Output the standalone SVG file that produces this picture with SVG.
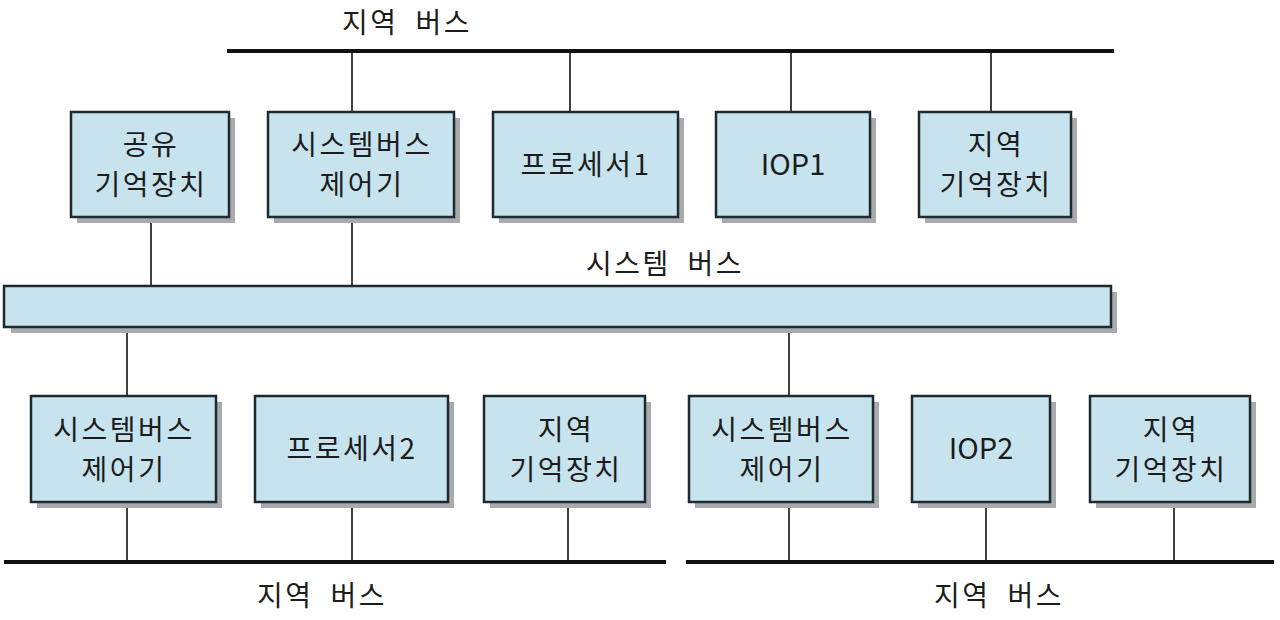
<svg xmlns="http://www.w3.org/2000/svg" width="1280" height="620" viewBox="0 0 1280 620">
<style>
.box{fill:#c7e4ee;stroke:#1e2a2e;stroke-width:2.5}
.sh{fill:#a8aaad}
.t{font-family:"Noto Sans CJK KR","Liberation Sans",sans-serif;font-size:28px;fill:#1c1c1c;text-anchor:middle;letter-spacing:2.5px}
.t.en{letter-spacing:0;font-size:29px}
.lbl{font-family:"Noto Sans CJK KR","Liberation Sans",sans-serif;font-size:28px;fill:#1c1c1c;text-anchor:middle;letter-spacing:2.5px;word-spacing:8px}
.bus{stroke:#111;stroke-width:4;fill:none}
.ln{stroke:#111;stroke-width:1.6;fill:none}
</style>
<rect width="1280" height="620" fill="#ffffff"/>

<g id="connectors">
  <line class="bus" x1="227" y1="51" x2="1114" y2="51"/>
  <line class="ln" x1="352" y1="51" x2="352" y2="112"/>
  <line class="ln" x1="570" y1="51" x2="570" y2="112"/>
  <line class="ln" x1="791" y1="51" x2="791" y2="112"/>
  <line class="ln" x1="991" y1="51" x2="991" y2="112"/>
  <line class="ln" x1="151" y1="217" x2="151" y2="286"/>
  <line class="ln" x1="352" y1="217" x2="352" y2="286"/>
  <line class="ln" x1="127" y1="327" x2="127" y2="396"/>
  <line class="ln" x1="789" y1="327" x2="789" y2="396"/>
  <line class="bus" x1="4" y1="562" x2="666" y2="562"/>
  <line class="bus" x1="686" y1="562" x2="1274" y2="562"/>
  <line class="ln" x1="127" y1="502" x2="127" y2="562"/>
  <line class="ln" x1="352" y1="502" x2="352" y2="562"/>
  <line class="ln" x1="568" y1="502" x2="568" y2="562"/>
  <line class="ln" x1="789" y1="502" x2="789" y2="562"/>
  <line class="ln" x1="986" y1="502" x2="986" y2="562"/>
  <line class="ln" x1="1174" y1="502" x2="1174" y2="562"/>
</g>

<g id="labels">
  <text class="lbl" x="407" y="33">지역 버스</text>
  <text class="lbl" x="665" y="274">시스템 버스</text>
  <text class="lbl" x="322" y="606">지역 버스</text>
  <text class="lbl" x="999" y="606">지역 버스</text>
</g>

<g id="system-bus">
  <rect class="sh" x="11" y="292" width="1106" height="41"/>
  <rect class="box" x="4" y="286" width="1107" height="41"/>
</g>

<g id="shared-mem">
  <rect class="sh" x="77" y="118" width="158" height="105"/>
  <rect class="box" x="71" y="112" width="158" height="105"/>
  <text class="t" x="151" y="155">공유</text>
  <text class="t" x="151" y="195">기억장치</text>
</g>
<g id="sbc0">
  <rect class="sh" x="274" y="118" width="186" height="105"/>
  <rect class="box" x="268" y="112" width="186" height="105"/>
  <text class="t" x="362" y="155">시스템버스</text>
  <text class="t" x="362" y="195">제어기</text>
</g>
<g id="proc1">
  <rect class="sh" x="499" y="118" width="185" height="105"/>
  <rect class="box" x="493" y="112" width="185" height="105"/>
  <text class="t" x="586" y="175">프로세서1</text>
</g>
<g id="iop1">
  <rect class="sh" x="722" y="118" width="154" height="105"/>
  <rect class="box" x="716" y="112" width="154" height="105"/>
  <text class="t en" x="793" y="175">IOP1</text>
</g>
<g id="lmem1">
  <rect class="sh" x="925" y="118" width="152" height="105"/>
  <rect class="box" x="919" y="112" width="152" height="105"/>
  <text class="t" x="996" y="155">지역</text>
  <text class="t" x="996" y="195">기억장치</text>
</g>

<g id="sbc1">
  <rect class="sh" x="37" y="402" width="185" height="106"/>
  <rect class="box" x="31" y="396" width="185" height="106"/>
  <text class="t" x="124" y="440">시스템버스</text>
  <text class="t" x="124" y="480">제어기</text>
</g>
<g id="proc2">
  <rect class="sh" x="261" y="402" width="193" height="106"/>
  <rect class="box" x="255" y="396" width="193" height="106"/>
  <text class="t" x="352" y="459">프로세서2</text>
</g>
<g id="lmem2">
  <rect class="sh" x="490" y="402" width="161" height="106"/>
  <rect class="box" x="484" y="396" width="161" height="106"/>
  <text class="t" x="566" y="440">지역</text>
  <text class="t" x="566" y="480">기억장치</text>
</g>
<g id="sbc2">
  <rect class="sh" x="695" y="402" width="184" height="106"/>
  <rect class="box" x="689" y="396" width="184" height="106"/>
  <text class="t" x="782" y="440">시스템버스</text>
  <text class="t" x="782" y="480">제어기</text>
</g>
<g id="iop2">
  <rect class="sh" x="918" y="402" width="138" height="106"/>
  <rect class="box" x="912" y="396" width="138" height="106"/>
  <text class="t en" x="981" y="459">IOP2</text>
</g>
<g id="lmem3">
  <rect class="sh" x="1096" y="402" width="160" height="106"/>
  <rect class="box" x="1090" y="396" width="160" height="106"/>
  <text class="t" x="1171" y="440">지역</text>
  <text class="t" x="1171" y="480">기억장치</text>
</g>
</svg>
